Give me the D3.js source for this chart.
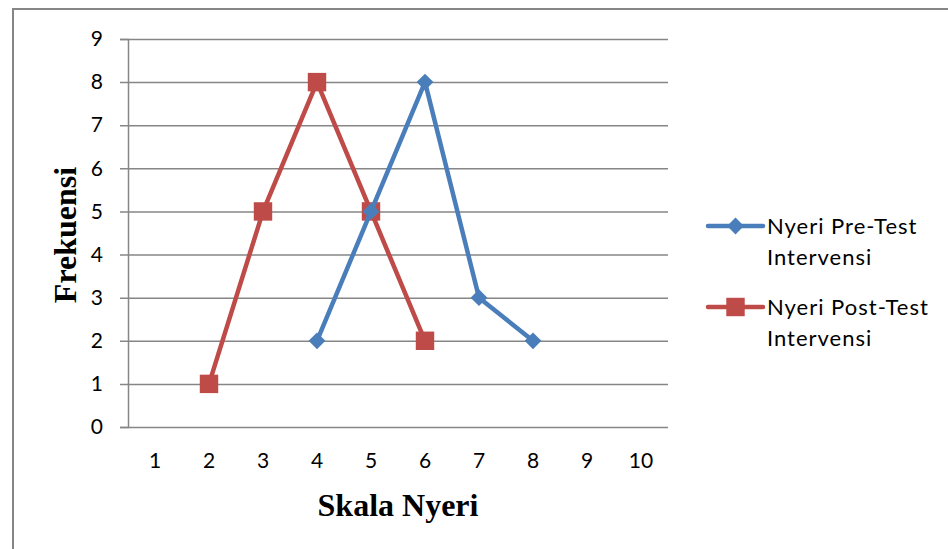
<!DOCTYPE html>
<html>
<head>
<meta charset="utf-8">
<script src="https://cdn.jsdelivr.net/npm/d3@7"></script>
<style>
  body { margin: 0; background: #fff; }
  .tick text { font-family: Lato, "Open Sans", sans-serif; font-size: 21px; fill: #000; }
  .axis-title { font-family: "Liberation Serif", "Times New Roman", serif; font-weight: bold; font-size: 32px; }
  .legend text { font-family: Lato, "Open Sans", sans-serif; font-size: 22px; letter-spacing: 1px; }
</style>
</head>
<body>
<div id="chart"></div>
<script>
const categories = [1, 2, 3, 4, 5, 6, 7, 8, 9, 10];
const yTicks = [0, 1, 2, 3, 4, 5, 6, 7, 8, 9];

const preTestX = [4, 5, 6, 7, 8];
const preTestY = [2, 5, 8, 3, 2];

const postTestX = [2, 3, 4, 5, 6];
const postTestY = [1, 5, 8, 5, 2];

const seriesNames = [
  ["Nyeri Pre-Test", "Intervensi"],
  ["Nyeri Post-Test", "Intervensi"],
];

const width = 948;
const height = 549;
const margin = { top: 39, right: 280, bottom: 122, left: 128 };
const gridColor = "#868686";
const blue = "#4A7EBB";
const red = "#BE4B48";

const svg = d3.select("#chart").append("svg")
  .attr("width", width)
  .attr("height", height);

// outer chart border
svg.append("rect")
  .attr("x", 13).attr("y", 9)
  .attr("width", width + 10).attr("height", height + 10)
  .attr("fill", "none")
  .attr("stroke", gridColor)
  .attr("stroke-width", 2);

const x = d3.scaleBand()
  .domain(categories)
  .range([margin.left, width - margin.right]);

const y = d3.scaleLinear()
  .domain([0, 9])
  .range([height - margin.bottom, margin.top]);

// gridlines + y axis
svg.append("g")
  .attr("transform", `translate(${margin.left},0)`)
  .call(d3.axisLeft(y).tickValues(yTicks).tickSize(8).tickPadding(17))
  .call((g) => g.select(".domain").attr("stroke", gridColor).attr("stroke-width", 1.5))
  .call((g) => g.selectAll(".tick line")
    .attr("x1", x.range()[1] - margin.left)
    .attr("x2", -8)
    .attr("stroke", gridColor)
    .attr("stroke-width", 1.5));

// x axis
svg.append("g")
  .attr("transform", `translate(0,${y(0)})`)
  .call(d3.axisBottom(x).tickSize(0).tickPadding(26))
  .call((g) => g.select(".domain").remove());

// axis titles
svg.append("text")
  .attr("class", "axis-title")
  .attr("transform", `translate(76,${(margin.top + y(0)) / 2 + 2}) rotate(-90)`)
  .attr("text-anchor", "middle")
  .text("Frekuensi");

svg.append("text")
  .attr("class", "axis-title")
  .attr("x", (x.range()[0] + x.range()[1]) / 2)
  .attr("y", 516)
  .attr("text-anchor", "middle")
  .text("Skala Nyeri");

const cx = (v) => x(v) + x.bandwidth() / 2;

const line = d3.line()
  .x((d) => cx(d[0]))
  .y((d) => y(d[1]));

const pre = d3.zip(preTestX, preTestY);
const post = d3.zip(postTestX, postTestY);

const diamond = d3.symbol().type(d3.symbolDiamond2).size(180);
const square = d3.symbol().type(d3.symbolSquare).size(340);

function drawSeries(data, color, sym) {
  svg.append("path")
    .attr("d", line(data))
    .attr("fill", "none")
    .attr("stroke", color)
    .attr("stroke-width", 4.5)
    .attr("stroke-linejoin", "round");
  svg.append("g").selectAll("path")
    .data(data)
    .join("path")
    .attr("d", sym)
    .attr("transform", (d) => `translate(${cx(d[0])},${y(d[1])})`)
    .attr("fill", color);
}

drawSeries(post, red, square);
drawSeries(pre, blue, diamond);

// legend
const legend = svg.append("g").attr("class", "legend");
const legendItems = [
  { names: seriesNames[0], color: blue, sym: diamond, y: 226 },
  { names: seriesNames[1], color: red, sym: square, y: 307 },
];
legendItems.forEach((d) => {
  const g = legend.append("g").attr("transform", `translate(708,${d.y})`);
  g.append("line")
    .attr("x1", 0).attr("x2", 55)
    .attr("stroke", d.color)
    .attr("stroke-width", 4.5)
    .attr("stroke-linecap", "round");
  g.append("path")
    .attr("d", d.sym)
    .attr("transform", "translate(27.5,0)")
    .attr("fill", d.color);
  g.append("text")
    .attr("x", 59).attr("y", 8)
    .text(d.names[0]);
  g.append("text")
    .attr("x", 59).attr("y", 39)
    .text(d.names[1]);
});
</script>
</body>
</html>
